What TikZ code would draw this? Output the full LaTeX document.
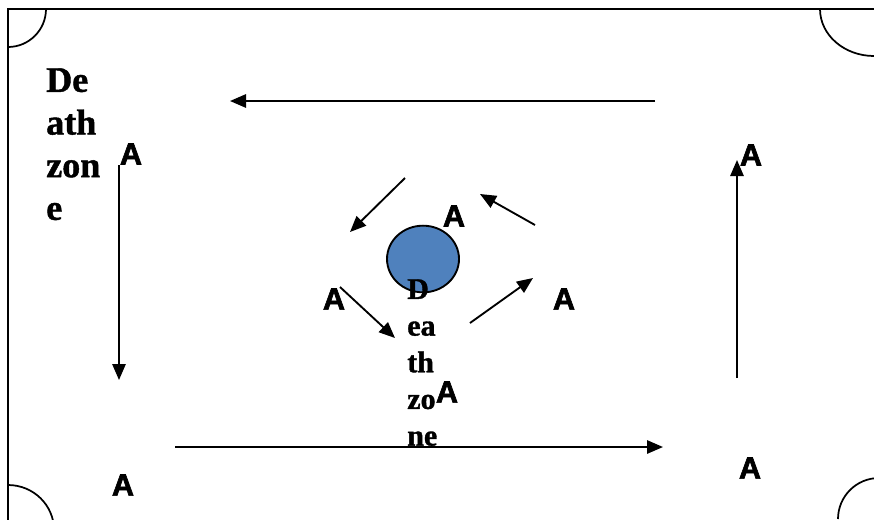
\documentclass[tikz,border=0pt]{standalone}
\usepackage{fontspec}
\setmainfont{Liberation Serif}
\setsansfont{Liberation Sans}
\newfontfamily\zonefont{Liberation Serif Bold}[FakeBold=1.2]
\newfontfamily\agentfont{Liberation Sans Bold}[FakeBold=2]
\usetikzlibrary{arrows.meta, shapes.geometric}
\definecolor{ballblue}{HTML}{4F81BD}

\begin{document}
\begin{tikzpicture}[x=0.75pt, y=-0.75pt]

\tikzset{agent/.style = {font=\agentfont\fontsize{23}{27}\selectfont, inner sep=0pt}}
\tikzset{zone/.style = {font=\zonefont\fontsize{27}{32}\selectfont, align=left, inner sep=0pt, anchor=north west}}
\tikzset{ball/.style = {ellipse, draw, fill=ballblue, line width=1.4pt, inner sep=0pt, minimum width=54pt, minimum height=50pt}}
\tikzset{edge/.style = {->, > = {Triangle[length=12pt, width=10pt]}, line width=1.4pt}}
\clip (0,0) rectangle (874,519);
%table
\draw[line width=1.6pt] (8,9) rectangle (900,560);
\draw[line width=1.3pt] (46,9) arc[start angle=0, end angle=90, radius=38];
\draw[line width=1.3pt] (820,9) arc[start angle=180, end angle=90, x radius=54, y radius=47];
\draw[line width=1.3pt] (8,485) arc[start angle=270, end angle=360, x radius=46, y radius=45];
\draw[line width=1.3pt] (838,519) arc[start angle=180, end angle=270, radius=41];
%ball and zones
\node[ball] (ball) at (423,259) {};
\node[zone] (dz1) at (46,68) {De\\ath\\zon\\e};
\node[zone, font=\zonefont\fontsize{22.5}{27.5}\selectfont] (dz2) at (407,279) {D\\ea\\th\\zo\\ne};
%agents
\node[agent] (a1) at (131,154) {A};
\node[agent] (a2) at (751,155) {A};
\node[agent] (a3) at (454,216) {A};
\node[agent] (a4) at (334,299) {A};
\node[agent] (a5) at (564,299) {A};
\node[agent] (a6) at (447,392) {A};
\node[agent] (a7) at (123,485) {A};
\node[agent] (a8) at (750,468) {A};
%arrow ends
\coordinate (t1) at (655,101);
\coordinate (t2) at (230,101);
\coordinate (l1) at (119,165);
\coordinate (l2) at (119,380);
\coordinate (b1) at (175,447);
\coordinate (b2) at (663,447);
\coordinate (r1) at (737,378);
\coordinate (r2) at (737,160);
\coordinate (c1) at (405,178);
\coordinate (c2) at (350,232);
\coordinate (c3) at (535,225);
\coordinate (c4) at (480,194);
\coordinate (c5) at (470,323);
\coordinate (c6) at (533,278);
\coordinate (c7) at (340,287);
\coordinate (c8) at (395,338);
%edges
\draw[edge] (t1) -- (t2);
\draw[edge] (l1) -- (l2);
\draw[edge] (b1) -- (b2);
\draw[edge] (r1) -- (r2);
\draw[edge] (c1) -- (c2);
\draw[edge] (c3) -- (c4);
\draw[edge] (c5) -- (c6);
\draw[edge] (c7) -- (c8);

\end{tikzpicture}
\end{document}
